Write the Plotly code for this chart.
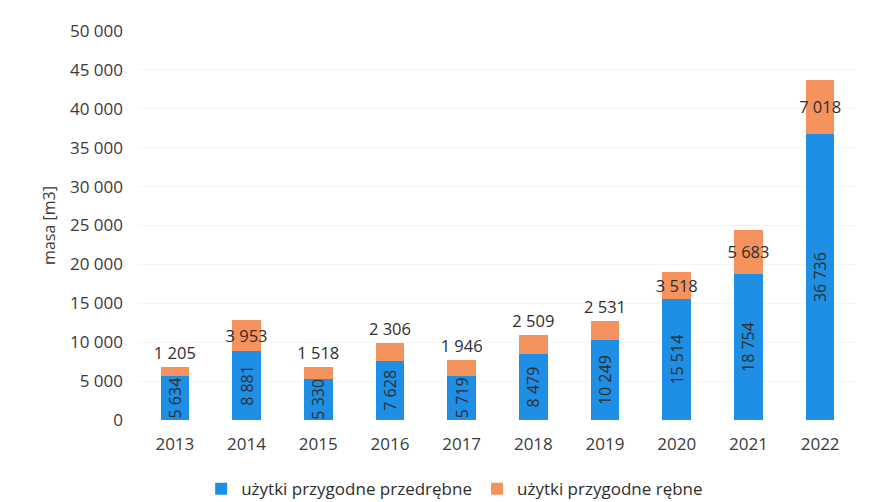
import plotly.graph_objects as go

years = ["2013", "2014", "2015", "2016", "2017", "2018", "2019", "2020", "2021", "2022"]
przedrebne = [5634, 8881, 5330, 7628, 5719, 8479, 10249, 15514, 18754, 36736]
rebne = [1205, 3953, 1518, 2306, 1946, 2509, 2531, 3518, 5683, 7018]
y_ticks = [0, 5000, 10000, 15000, 20000, 25000, 30000, 35000, 40000, 45000, 50000]

BLUE = "#1F8FE5"
ORANGE = "#F5935F"
TXT = "#2E2E2E"
FONT = "Open Sans"


def fmt(v):
    return f"{v:,}".replace(",", " ")


orange_pos = ["outside" if v < 2600 else "inside" for v in rebne]

fig = go.Figure()
fig.add_trace(go.Bar(
    x=years, y=przedrebne, name="użytki przygodne przedrębne",
    marker=dict(color=BLUE, line=dict(width=0)),
    text=[fmt(v) for v in przedrebne], textposition="inside",
    insidetextanchor="middle", textangle=-90, constraintext="none",
    textfont=dict(family=FONT, size=16, color=TXT),
))
fig.add_trace(go.Bar(
    x=years, y=rebne, name="użytki przygodne rębne",
    marker=dict(color=ORANGE, line=dict(width=0)),
    text=[fmt(v) for v in rebne], textposition=orange_pos,
    insidetextanchor="middle", textangle=0, constraintext="none",
    textfont=dict(family=FONT, size=16.5, color=TXT), cliponaxis=False,
))

fig.update_layout(
    width=869, height=494,
    barmode="stack", bargap=0.6,
    paper_bgcolor="white", plot_bgcolor="white",
    margin=dict(l=131, r=21, t=23, b=82, autoexpand=False),
    font=dict(family=FONT, size=16, color=TXT),
    separators=", ",
    legend=dict(orientation="h", xref="container", yref="container",
                x=0.514, xanchor="center", y=0.026, yanchor="middle",
                font=dict(family=FONT, size=17, color=TXT), traceorder="normal",
                itemwidth=30),
    showlegend=True,
)
fig.update_yaxes(
    range=[0, 50000], tickvals=y_ticks, ticktext=[fmt(v) for v in y_ticks],
    showgrid=True, gridcolor="#F5F5F5", gridwidth=1, zeroline=False, showline=False,
    tickfont=dict(family=FONT, size=17, color="#3A3A3A"), ticklabelstandoff=15,
    title=dict(text="masa [m3]", font=dict(family=FONT, size=16, color="#3A3A3A"), standoff=10),
    automargin=False,
)
fig.update_xaxes(
    showgrid=False, showline=False, zeroline=False,
    tickfont=dict(family=FONT, size=17, color="#3A3A3A"), ticklabelstandoff=12,
    automargin=False,
)

fig.write_html("out.html")
